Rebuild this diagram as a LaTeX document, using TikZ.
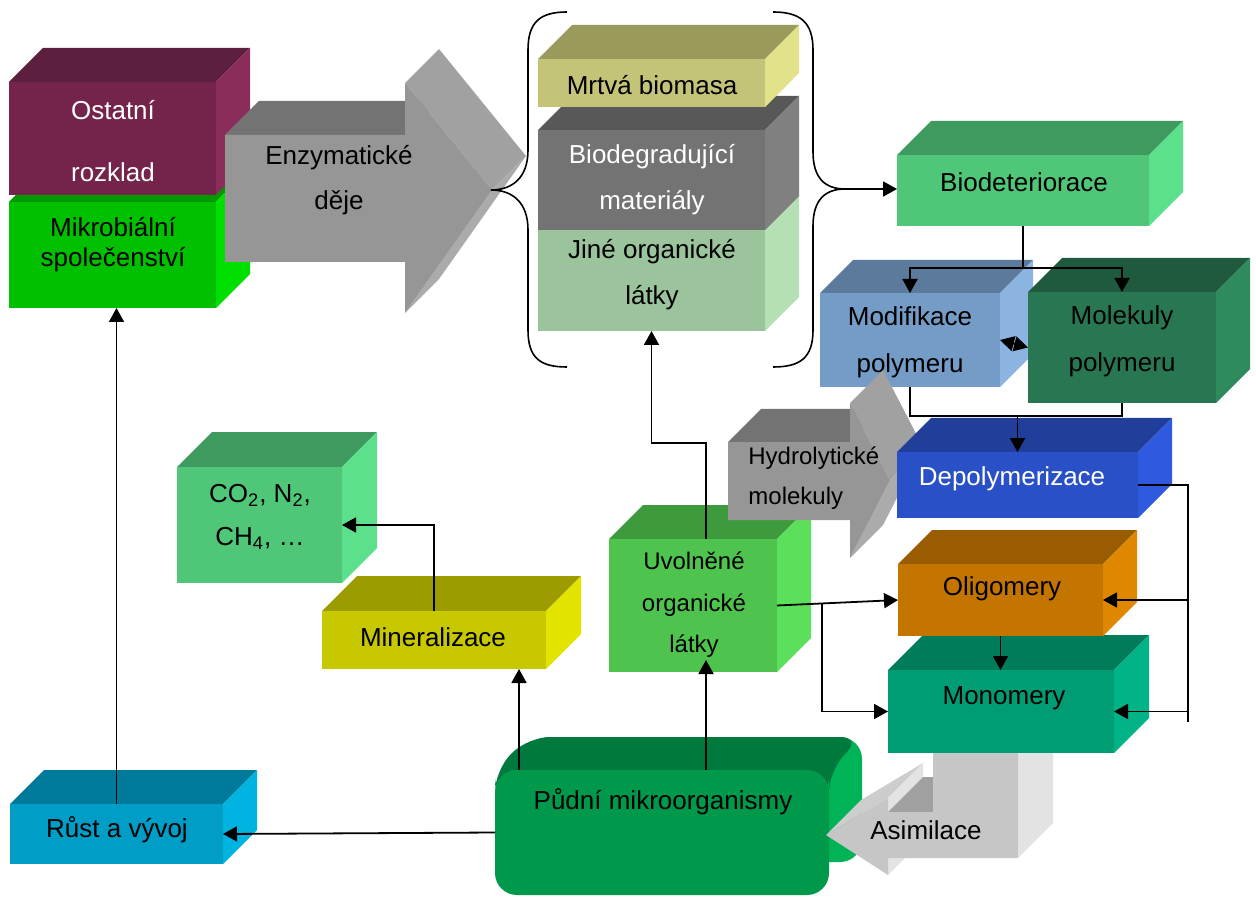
\documentclass[tikz,border=0pt]{standalone}
\usepackage{fontspec}
\setmainfont{Liberation Sans}
\usetikzlibrary{arrows.meta,calc}
\definecolor{ostF}{HTML}{74244A}\definecolor{ostT}{HTML}{5C1F3E}\definecolor{ostS}{HTML}{8B2D5A}
\definecolor{mikF}{HTML}{00C000}\definecolor{mikT}{HTML}{009A00}\definecolor{mikS}{HTML}{00E000}
\definecolor{mrtF}{HTML}{C4C478}\definecolor{mrtT}{HTML}{9A9A5C}\definecolor{mrtS}{HTML}{E2E28A}
\definecolor{bdgF}{HTML}{737373}\definecolor{bdgT}{HTML}{585858}\definecolor{bdgS}{HTML}{808080}
\definecolor{jinF}{HTML}{9CC49C}\definecolor{jinT}{HTML}{7FA07F}\definecolor{jinS}{HTML}{B4E0B4}
\definecolor{bdtF}{HTML}{4FC678}\definecolor{bdtT}{HTML}{3F9A5F}\definecolor{bdtS}{HTML}{5DE08B}
\definecolor{modF}{HTML}{749CC6}\definecolor{modT}{HTML}{5B7A9C}\definecolor{modS}{HTML}{8CB4E0}
\definecolor{molF}{HTML}{287752}\definecolor{molT}{HTML}{1F5A3E}\definecolor{molS}{HTML}{2E8B5E}
\definecolor{depF}{HTML}{2950C6}\definecolor{depT}{HTML}{213E9B}\definecolor{depS}{HTML}{2F5ADF}
\definecolor{oliF}{HTML}{C47500}\definecolor{oliT}{HTML}{9A5C00}\definecolor{oliS}{HTML}{E08700}
\definecolor{monF}{HTML}{009C74}\definecolor{monT}{HTML}{007C5A}\definecolor{monS}{HTML}{00B488}
\definecolor{uvoF}{HTML}{4EC34E}\definecolor{uvoT}{HTML}{3D9A3D}\definecolor{uvoS}{HTML}{5CE05C}
\definecolor{minF}{HTML}{C8C800}\definecolor{minT}{HTML}{9C9C00}\definecolor{minS}{HTML}{E3E300}
\definecolor{pudF}{HTML}{00994C}\definecolor{pudT}{HTML}{007A3C}\definecolor{pudS}{HTML}{00B356}
\definecolor{rstF}{HTML}{009DC6}\definecolor{rstT}{HTML}{007A9A}\definecolor{rstS}{HTML}{00B4E2}
\definecolor{arwF}{HTML}{969696}\definecolor{arwT}{HTML}{737373}\definecolor{arwH}{HTML}{A1A1A1}\definecolor{arwL}{HTML}{ABABAB}
\definecolor{asiF}{HTML}{C6C6C6}\definecolor{asiS}{HTML}{E3E3E3}\definecolor{asiD}{HTML}{A0A0A0}\definecolor{asiH}{HTML}{CDCDCD}
% #1 name, #2 x1, #3 y1, #4 x2, #5 y2, #6 depth, #7 colour prefix
\newcommand\cubeb[7]{%
  \fill[#7T] (#2,#3) -- ++(#6,-#6) -- (#4+#6,#3-#6) -- (#4,#3) -- cycle;
  \fill[#7S] (#4,#3) -- ++(#6,-#6) -- (#4+#6,#5-#6) -- (#4,#5) -- cycle;
  \node[fill=#7F, inner sep=0, outer sep=0, anchor=north west,
        minimum width={(#4-#2)*0.5pt}, minimum height={(#5-#3)*0.5pt}] (#1) at (#2,#3) {};}
\tikzset{
  txt/.style={inner sep=0, align=center},
  big/.style={font=\fontsize{13}{22}\selectfont},
  arr/.style={line width=0.9pt, -{Triangle[length=7pt,width=7.5pt]}},
  dbl/.style={line width=0.9pt, {Triangle[length=7pt,width=7.5pt]}-{Triangle[length=7pt,width=7.5pt]}},
  ln/.style={line width=0.9pt},
  brace/.style={line width=0.8pt},
}
\begin{document}
\begin{tikzpicture}[x=0.5pt,y=-0.5pt]
\useasboundingbox (0,0) rectangle (1256,897);
% left stack
\cubeb{mikro}{9}{202}{216}{308}{34}{mik}
\cubeb{ostat}{9}{82}{216}{195}{34}{ost}
\node[txt, white, font=\fontsize{13}{31}\selectfont] (ostat-t) at (113,141) {Ostatní\\rozklad};
\node[txt, font=\fontsize{13}{15}\selectfont] (mikro-t) at (113,245) {Mikrobiální\\společenství};
% enzymatic arrow
\fill[arwT] (225,135) -- (259,101) -- (439,101) -- (405,135) -- cycle;
\fill[arwH] (405,83) -- (439,49) -- (526,156) -- (492,190) -- cycle;
\fill[arwL] (492,190) -- (526,156) -- (439,279) -- (405,313) -- cycle;
\fill[arwF] (225,135) -- (405,135) -- (405,83) -- (492,190) -- (405,313) -- (405,262) -- (225,262) -- cycle;
\node[txt, font=\fontsize{13}{22.5}\selectfont] (enzym) at (339,180) {Enzymatické\\děje};
% middle stack
\cubeb{jine}{538}{230}{765}{331}{34}{jin}
\cubeb{biodeg}{538}{130}{765}{230}{34}{bdg}
\cubeb{mrtva}{538}{59}{765}{107}{34}{mrt}
\node[txt, big] (mrtva-t) at (652,85) {Mrtvá biomasa};
\node[txt, white, font=\fontsize{13}{23}\selectfont] (biodeg-t) at (652,180) {Biodegradující\\materiály};
\node[txt, font=\fontsize{13}{23}\selectfont] (jine-t) at (652,275) {Jiné organické\\látky};
% braces
\draw[brace] (567,12) .. controls (540,12) and (528,22) .. (528,50) -- (528,150)
  .. controls (528,178) and (512,190) .. (491,190)
  .. controls (512,190) and (528,202) .. (528,230) -- (528,330)
  .. controls (528,358) and (540,367) .. (567,367);
\draw[brace] (773,12) .. controls (800,12) and (813,22) .. (813,50) -- (813,152)
  .. controls (813,178) and (825,189) .. (845,189)
  .. controls (825,189) and (813,200) .. (813,226) -- (813,330)
  .. controls (813,358) and (800,367) .. (773,367);
\coordinate (btip) at (845,189);
% right column
\cubeb{biodet}{897}{155}{1149}{226}{34}{bdt}
\node[txt, big] (biodet-t) at (1024,182) {Biodeteriorace};
\cubeb{modif}{820}{293}{1000}{387}{33}{mod}
\node[txt, font=\fontsize{13}{23.5}\selectfont] (modif-t) at (910,342) {Modifikace\\polymeru};
\cubeb{molek}{1028}{292}{1216}{403}{34}{mol}
\node[txt, font=\fontsize{13}{23.5}\selectfont] (molek-t) at (1122,341) {Molekuly\\polymeru};
% green middle
\cubeb{uvol}{609}{539}{777}{672}{34}{uvo}
\node[txt, font=\fontsize{12}{20.75}\selectfont] (uvol-t) at (694,605) {Uvolněné\\organické\\látky};
% hydrolytic arrow
\fill[arwT] (728,442) -- (761,409) -- (883,409) -- (850,442) -- cycle;
\fill[arwH] (850,403) -- (883,370) -- (923,447) -- (890,480) -- cycle;
\fill[arwL] (890,480) -- (923,447) -- (883,525) -- (850,558) -- cycle;
\fill[arwF] (728,442) -- (850,442) -- (850,403) -- (890,480) -- (850,558) -- (850,520) -- (728,520) -- cycle;
\node[txt, align=left, anchor=west, font=\fontsize{12}{20}\selectfont] (hydro) at (748,478) {Hydrolytické\\molekuly};
\cubeb{depol}{897}{452}{1138}{518}{34}{dep}
\node[txt, white, big] (depol-t) at (1012,479) {Depolymerizace};
% CO2, mineralizace
\cubeb{co2}{177}{467}{342}{583}{35}{bdt}
\node[txt, font=\fontsize{13}{21.5}\selectfont] (co2-t) at (260,517) {CO\textsubscript{2}, N\textsubscript{2},\\CH\textsubscript{4}, …};
\cubeb{mineral}{322}{611}{546}{669}{35}{min}
\node[txt, big] (mineral-t) at (433,637) {Mineralizace};
% bottom
\cubeb{rust}{10}{804}{223}{864}{34}{rst}
\node[txt, big] (rust-t) at (117,830) {Růst a vývoj};
\fill[pudS, rounded corners=11pt] (528,737) rectangle (862,862);
\fill[pudT, rounded corners=11pt] (495,800) -- (495,770) -- (528,737) -- (862,737) -- (829,770) -- (829,800) -- cycle;
\node[fill=pudF, rounded corners=11pt, inner sep=0, outer sep=0, anchor=north west,
      minimum width=167pt, minimum height=62.5pt] (pudni) at (495,770) {};
\node[txt, big] (pudni-t) at (663,802) {Půdní mikroorganismy};
% asimilace arrow
\fill[asiS] (1018,753) -- (1053,718) -- (1053,823) -- (1018,858) -- cycle;
\fill[asiH] (826,835) -- (888,798) -- (923,763) -- (861,800) -- cycle;
\fill[asiS] (888,798) -- (923,763) -- (923,777) -- (888,812) -- cycle;
\fill[asiD] (888,812) -- (923,777) -- (968,777) -- (933,812) -- cycle;
\fill[asiS] (888,858) -- (923,823) -- (923,840) -- (888,875) -- cycle;
\fill[asiF] (933,753) -- (1018,753) -- (1018,858) -- (888,858) -- (888,875) -- (826,835)
  -- (888,798) -- (888,812) -- (933,812) -- cycle;
\node[txt, big] (asim) at (926,830) {Asimilace};
\cubeb{monom}{888}{670}{1114}{753}{35}{mon}
\node[txt, big] (monom-t) at (1004,698) {Monomery};
\cubeb{oligo}{898}{564}{1103}{636}{34}{oli}
\node[txt, big] (oligo-t) at (1002,589) {Oligomery};
% connectors
\draw[arr] (rust.north) -- (rust.north |- mikro.south);
\draw[arr] (pudni.west) -- (rust.east);
\coordinate (p1) at ([xshift=12pt]pudni.north west);
\draw[arr] (p1) -- (p1 |- mineral.south);
\coordinate (u1) at ([xshift=6.5pt]uvol.south);
\coordinate (u1t) at ([xshift=6.5pt,yshift=6pt]uvol.south);
\draw[arr] (u1 |- pudni.north) -- (u1t);
\draw[arr] (mineral.north) |- (co2.east);
\coordinate (u2) at ([xshift=6.5pt]uvol.north);
\draw[arr] (u2) -- ++(0,-96) -| (jine.south);
\draw[arr] (uvol.east) -- (oligo.west);
\coordinate (br) at ($(uvol.east)!0.37!(oligo.west)$);
\draw[arr] (br) |- (monom.west);
\draw[arr] (oligo.south) -- (oligo.south |- monom.north);
\draw[ln] (depol.east) -- ++(50,0) coordinate (dc) -- ++(0,237);
\draw[arr] (dc |- oligo.east) -- (oligo.east);
\draw[arr] (dc |- monom.east) -- (monom.east);
\draw[ln] (biodet.south) -- ++(0,42) coordinate (bs);
\draw[arr] (bs) -| (modif.north);
\draw[arr] (bs) -| (molek.north);
\draw[dbl] (modif.east) -- (molek.west);
\draw[ln] (modif.south) -- ++(0,29) coordinate (ms) -| (molek.south);
\draw[arr] (ms -| depol.north) -- (depol.north);
\draw[arr] (btip) -- (btip -| biodet.west);
\end{tikzpicture}
\end{document}
